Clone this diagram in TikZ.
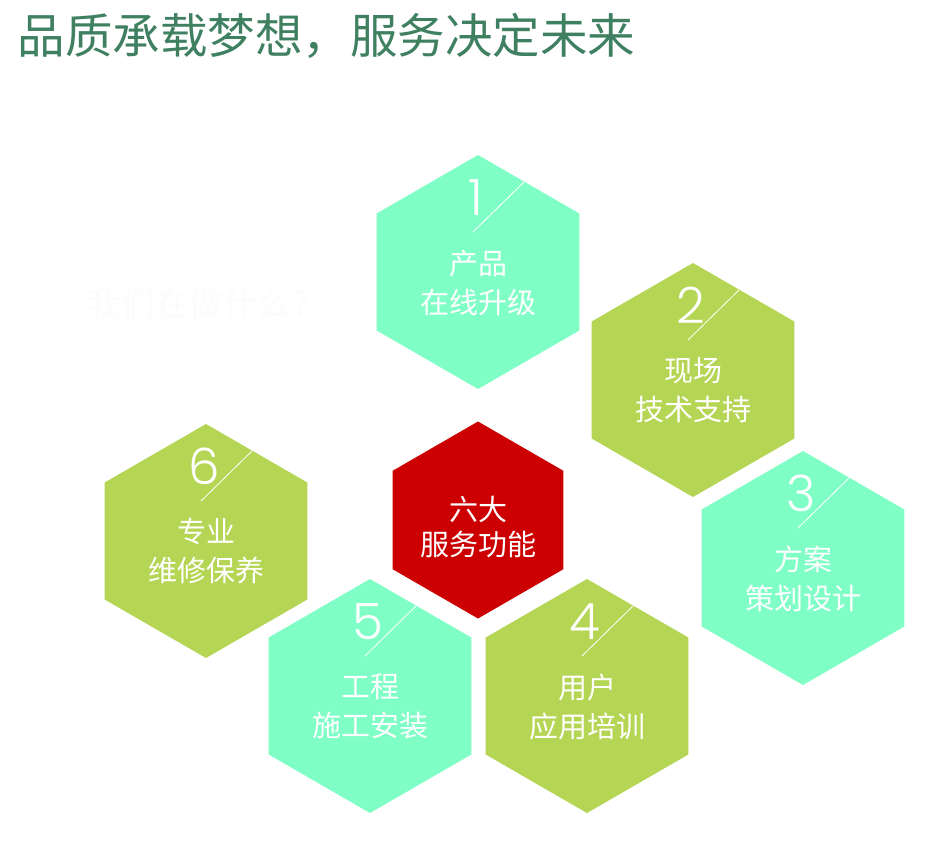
\documentclass[tikz,border=0pt]{standalone}
\usepackage{fontspec}
\setmainfont{Noto Sans CJK SC}
\newfontfamily\numfont{Poppins Light}
\usetikzlibrary{shapes.geometric,calc}
\definecolor{titlegreen}{HTML}{3F8061}
\definecolor{hexaqua}{HTML}{7FFFC6}
\definecolor{hexlime}{HTML}{B5D554}
\definecolor{hexred}{HTML}{CC0000}

\begin{document}
\begin{tikzpicture}[x=1pt, y=-1pt,
  hexcell/.style = {regular polygon, regular polygon sides=6, shape border rotate=30, minimum size=234pt, inner sep=0pt},
  hextext/.style = {text=white, font=\fontsize{29}{39}\selectfont, align=center},
  hexnum/.style = {text=white, font=\numfont\fontsize{50}{50}\selectfont, inner sep=0pt, anchor=base},
  hexslash/.style = {white, line width=0.8pt}]
  \fill[white] (0,0) rectangle (943,841);
  \node[anchor=west, text=titlegreen, font=\fontsize{47.5}{47.5}\selectfont] (title) at (14,36) {品质承载梦想，服务决定未来};
  \node[text=black!1.2, font=\fontsize{34}{34}\selectfont] (ghost) at (206,304) {我们在做什么？};
  % six service cells
  \foreach \n/\pos/\col/\la/\lb in {1/{478,272}/hexaqua/产品/在线升级,
      2/{693,380}/hexlime/现场/技术支持, 3/{803,568}/hexaqua/方案/策划设计,
      4/{587,696}/hexlime/用户/应用培训, 5/{370,696}/hexaqua/工程/施工安装,
      6/{206,541}/hexlime/专业/维修保养} {
    \node[hexcell, fill=\col] (hex\n) at (\pos) {};
    \node[hexnum] (num\n) at ($(hex\n)+(-2,-57)$) {\n};
    \draw[hexslash] ($(hex\n)+(-5,-40)$) -- ($(hex\n)+(46,-90)$);
    \node[hextext] (lbl\n) at ($(hex\n)+(0,10.5)$) {\la\\\lb};
  }
  % centre
  \node[hexcell, minimum size=197pt, fill=hexred] (hexc) at (478,520) {};
  \node[hextext, font=\fontsize{29}{35}\selectfont] (lblc) at ($(hexc)+(0,7.5)$) {六大\\服务功能};
\end{tikzpicture}
\end{document}
